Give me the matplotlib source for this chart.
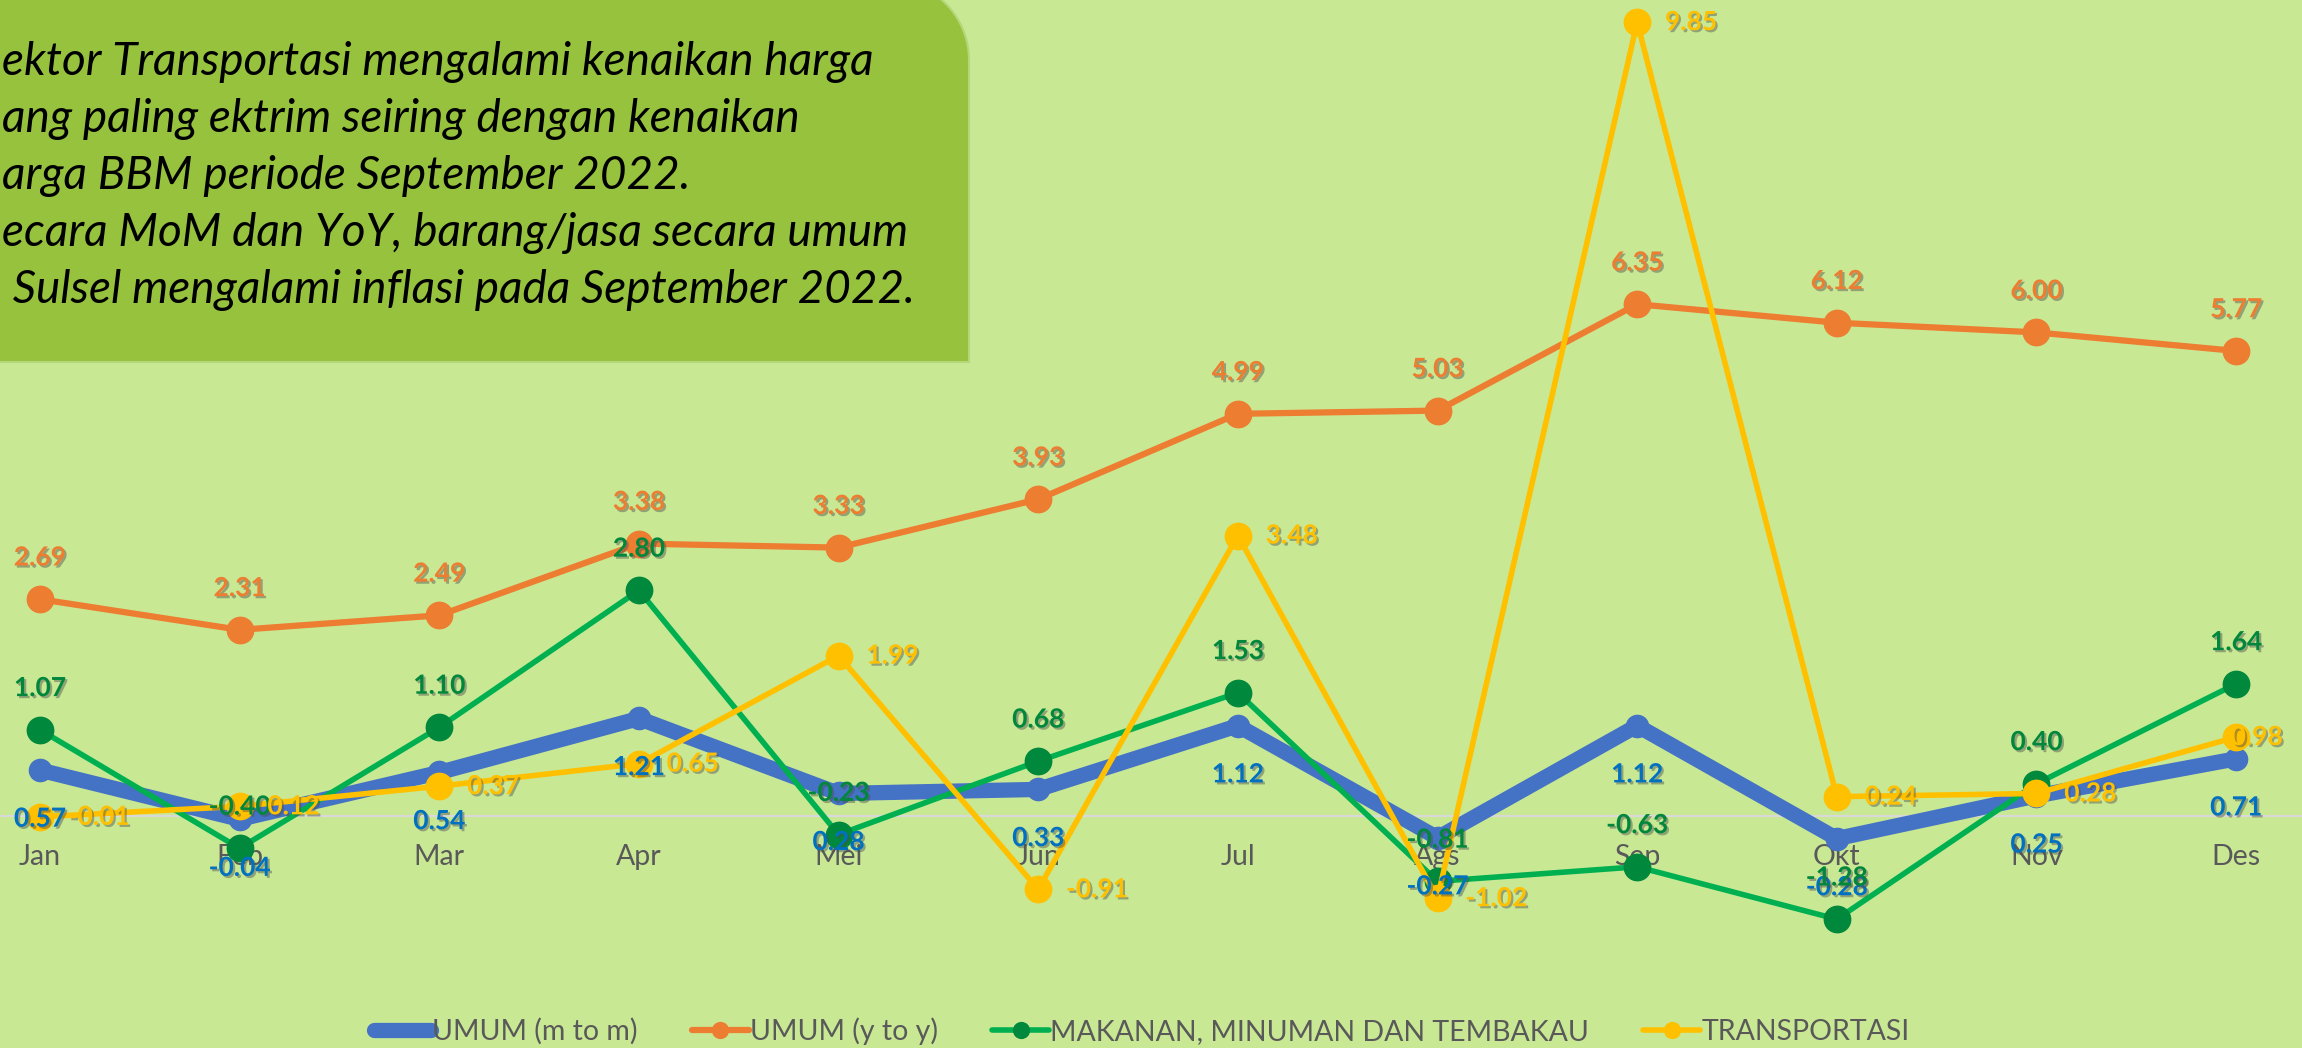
import numpy as np
import matplotlib.pyplot as plt
import matplotlib.patheffects as pe
from matplotlib.patches import PathPatch
from matplotlib.path import Path

plt.rcParams['font.family'] = ['Lato', 'DejaVu Sans']

bulan = ['Jan', 'Feb', 'Mar', 'Apr', 'Mei', 'Jun', 'Jul', 'Ags', 'Sep', 'Okt', 'Nov', 'Des']
umum_mtm = [0.57, -0.04, 0.54, 1.21, 0.28, 0.33, 1.12, -0.27, 1.12, -0.28, 0.25, 0.71]
umum_yty = [2.69, 2.31, 2.49, 3.38, 3.33, 3.93, 4.99, 5.03, 6.35, 6.12, 6.00, 5.77]
makanan = [1.07, -0.40, 1.10, 2.80, -0.23, 0.68, 1.53, -0.81, -0.63, -1.28, 0.40, 1.64]
transportasi = [-0.01, 0.12, 0.37, 0.65, 1.99, -0.91, 3.48, -1.02, 9.85, 0.24, 0.28, 0.98]

keterangan = [
    'ektor Transportasi mengalami kenaikan harga',
    'ang paling ektrim seiring dengan kenaikan',
    'arga BBM periode September 2022.',
    'ecara MoM dan YoY, barang/jasa secara umum',
    ' Sulsel mengalami inflasi pada September 2022.',
]

W, H = 2302, 1048
fig = plt.figure(figsize=(W / 100, H / 100), dpi=100)
fig.patch.set_facecolor('#C9E894')

ax = fig.add_axes([0, 0, 1, 1])
ax.set_facecolor('none')
x = np.arange(len(bulan))

# (nama, data, warna garis, warna marker, tebal, ukuran marker, warna label, posisi label)
seri = [
    ('UMUM (m to m)', umum_mtm, '#4472C4', '#4472C4', 11, 16, '#0070C0', 'bawah'),
    ('UMUM (y to y)', umum_yty, '#ED7D31', '#ED7D31', 4.5, 19, '#ED7D31', 'atas'),
    ('MAKANAN, MINUMAN DAN TEMBAKAU', makanan, '#00B050', '#00893C', 4, 19, '#00873C', 'atas'),
    ('TRANSPORTASI', transportasi, '#FFC000', '#FFC000', 4, 19, '#FFC000', 'kanan'),
]

bayangan = [pe.SimplePatchShadow(offset=(1.5, -1.5), shadow_rgbFace='#4d4d4d', alpha=0.45), pe.Normal()]

for i, (nama, data, cl, cm, lw, ms, ct, pos) in enumerate(seri):
    ax.plot(x, data, color=cl, lw=lw, marker='o', ms=ms, mfc=cm, mec=cm,
            label=nama, zorder=3 + i, solid_capstyle='round')
    for xi, v in zip(x, data):
        if pos == 'atas':
            off, ha = (0, 30), 'center'
        elif pos == 'bawah':
            off, ha = (0, -35), 'center'
        elif xi == x[-1]:
            # label terakhir digeser ke dalam supaya tidak terpotong
            off, ha = (-4, 0), 'left'
        else:
            off, ha = (20, 0), 'left'
        ax.annotate(f'{v:.2f}', (xi, v), xytext=off, textcoords='offset points',
                    ha=ha, va='center', fontsize=19, fontweight='bold', color=ct,
                    zorder=10, path_effects=bayangan)

ax.set_xlim(-0.2, 11.33)
ax.set_ylim(-2.878, 10.124)
ax.set_xticks(x)
ax.set_xticklabels(bulan)
ax.tick_params(axis='x', length=0, pad=20, labelsize=20.5, labelcolor='#595959')
ax.yaxis.set_visible(False)
for s in ['top', 'right', 'left']:
    ax.spines[s].set_visible(False)
ax.spines['bottom'].set_position(('data', 0))
ax.spines['bottom'].set_color('#D9D9D9')
ax.spines['bottom'].set_linewidth(1.5)
ax.spines['bottom'].set_zorder(1)

ax.legend(loc='lower center', bbox_to_anchor=(0.496, -0.008), ncol=4, frameon=False,
          fontsize=20.5, labelcolor='#595959', handlelength=2.0, handletextpad=0.05,
          columnspacing=1.9, borderaxespad=0.0, markerscale=0.6)

# kotak keterangan di kiri atas, sudut kanan atas membulat
kotak = fig.add_axes([0, 0, 1, 1], zorder=20)
kotak.set_xlim(0, W)
kotak.set_ylim(H, 0)
kotak.axis('off')
kanan, bawah, atas, r = 969, 362, -20, 80
sudut = np.linspace(np.pi / 2, 0, 30)
busur = np.column_stack([kanan - r + r * np.cos(sudut), atas + r - r * np.sin(sudut)])
titik = np.vstack([[-10, bawah], [kanan, bawah], busur[::-1], [-10, atas], [-10, bawah]])
kotak.add_patch(PathPatch(Path(titik, closed=True), facecolor='#96C23E',
                          edgecolor='#B5D77A', lw=1.5))
for k, baris in enumerate(keterangan):
    kotak.text(2, 62 + k * 57, baris, fontsize=33, style='italic', color='black',
               ha='left', va='center')

fig.savefig('out.png', dpi=100, facecolor=fig.get_facecolor())
